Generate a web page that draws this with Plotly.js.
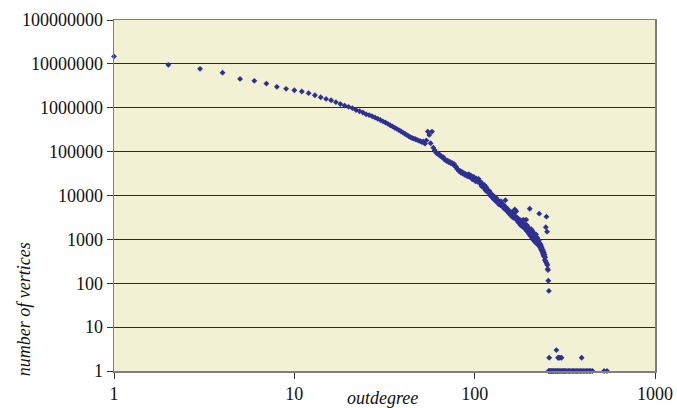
<!DOCTYPE html>
<html>
<head>
<meta charset="utf-8">
<script src="https://cdn.plot.ly/plotly-3.0.1.min.js"></script>
<style>
html,body{margin:0;padding:0;background:#fff;}
#chart{width:677px;height:408px;}
</style>
</head>
<body>
<div id="chart"></div>
<script>
// Out-degree values (x) and number of vertices with that out-degree (y)
const outdegree = [
  1,2,3,4,5,6,7,8,9,10,11,12,13,14,15,16,17,18,19,20,21,22,23,24,25,
  26,27,28,29,30,31,32,33,34,35,36,37,38,39,40,41,42,43,44,45,46,47,48,49,50,
  51,52,53,54,55,56,57,58,59,60,61,62,63,64,65,66,67,68,69,70,
  71,72,73,74,75,76,77,78,79,80,81,82,83,84,85,86,87,88,89,90,
  91,92,93,94,95,96,97,98,99,100,101,102,103,104,105,106,107,108,109,110,
  111,112,113,114,115,116,117,118,119,120,121,122,123,124,125,126,127,128,129,130,
  131,132,133,134,135,136,137,138,139,140,141,142,143,144,145,146,147,148,149,150,
  151,152,153,154,155,156,157,158,159,160,161,162,163,164,165,166,167,168,169,170,
  171,172,173,174,175,176,177,178,179,180,181,182,183,184,185,186,187,188,189,190,
  191,192,193,194,195,196,197,198,199,200,201,202,203,204,205,206,207,208,209,210,
  211,212,213,214,215,216,217,218,219,220,221,222,223,224,225,226,227,228,229,230,
  231,232,233,234,235,236,237,238,239,240,241,242,243,244,245,246,247,248,249,250,
  251,252,253,254,255,256,258
];
const vertices = [
  14800000,9500000,7700000,6300000,4550000,4100000,3560000,3000000,2700000,2500000,
  2350000,2150000,1930000,1740000,1590000,1480000,1340000,1220000,1120000,1050000,
  980000,890000,830000,780000,710000,
  680000,640000,600000,560000,525000,490000,460000,430000,400000,375000,
  350000,330000,310000,292000,272000,255000,240000,226000,214000,205000,
  198000,192000,185000,178000,172000,
  166000,170000,152000,180000,286000,240000,155000,286000,123000,108000,
  96000,90000,91000,81000,80000,74000,75000,66000,65000,61000,
  62000,57000,58500,54000,55000,51000,52000,46000,45000,40000,
  39000,35500,36500,33000,34500,31500,32500,29500,31000,28500,
  29500,27000,30500,27500,26000,28000,23500,25500,26500,23500,
  21000,24500,22500,20500,24000,21000,19000,20500,16500,18500,
  17000,15000,17500,15000,13000,15500,13500,12000,13000,11500,
  12500,10000,11000,10500,9000,10200,9400,8100,9300,8500,
  7400,8800,7700,7100,7600,6300,7200,6700,6000,7400,
  6500,5700,6300,5500,6100,5000,5600,7800,5300,4600,
  5100,4300,4800,4500,3900,4400,4000,3600,4200,3700,
  3300,3900,3400,3100,4500,3500,4800,3000,4300,4400,
  3200,2700,3000,2500,2900,2700,2300,2800,2400,2100,
  2600,2300,2000,2500,2200,2800,1900,2300,1800,2100,
  1700,2000,2800,1600,2100,1500,1900,1700,1400,1800,
  1300,5000,1600,1200,1450,1700,1100,1350,1550,1050,
  1250,950,1400,1100,900,1200,1000,850,1300,950,
  800,1100,900,1000,750,850,950,3850,700,820,
  650,760,600,700,560,640,520,580,470,540,
  430,500,400,450,340,390,320,1900,300,3300,
  280,1500,260,210,200,114,67
];
// Sparse tail: out-degrees with only a few vertices
const tailDegree = [259,284,290,293,297,303,392,
  257,260,263,266,269,272,275,279,282,286,289,293,297,301,306,310,315,320,325,331,336,342,348,354,360,366,372,379,386,393,400,408,416,424,432,440,450,522,542];
const tailVertices = [2,3,2,2,2,2,2,
  1,1,1,1,1,1,1,1,1,1,1,1,1,1,1,1,1,1,1,1,1,1,1,1,1,1,1,1,1,1,1,1,1,1,1,1,1,1,1];

const yTickVals = [1,10,100,1000,10000,100000,1000000,10000000,100000000];
const yTickText = ["1","10","100","1000","10000","100000","1000000","10000000","100000000"];
const xTickVals = [1,10,100,1000];
const xTickText = ["1","10","100","1000"];

const markerColor = '#2E3192';
const traces = [
  {x: outdegree, y: vertices, type:'scatter', mode:'markers', cliponaxis:false,
   marker:{symbol:'diamond', size:4.5, color:markerColor}},
  {x: tailDegree, y: tailVertices, type:'scatter', mode:'markers', cliponaxis:false,
   marker:{symbol:'diamond', size:4.5, color:markerColor}}
];
const font = {family:'"Liberation Serif", "Times New Roman", serif', size:18, color:'#111'};
const layout = {
  width:677, height:408,
  margin:{l:114, r:22, t:20, b:37},
  paper_bgcolor:'#ffffff',
  plot_bgcolor:'#F3F1D4',
  showlegend:false,
  font: font,
  xaxis:{type:'log', range:[0,3], tickvals:xTickVals, ticktext:xTickText,
    showgrid:false, zeroline:false, showline:true, linecolor:'#7f7f7f', linewidth:1.5,
    mirror:true, ticks:'outside', ticklen:6, tickcolor:'#333', tickfont:font},
  yaxis:{type:'log', range:[0,8], tickvals:yTickVals, ticktext:yTickText,
    showgrid:true, gridcolor:'#2a2a2a', gridwidth:1, zeroline:false,
    showline:true, linecolor:'#7f7f7f', linewidth:1.5, mirror:true,
    ticks:'outside', ticklen:6, tickcolor:'#333', tickfont:font},
  annotations:[
    {text:'<i>outdegree</i>', xref:'paper', yref:'paper', x:0.496, y:-0.078,
     xanchor:'center', yanchor:'middle', showarrow:false, font:font},
    {text:'<i>number of vertices</i>', xref:'paper', yref:'paper', x:-0.167, y:0.175,
     xanchor:'center', yanchor:'middle', textangle:-90, showarrow:false, font:font}
  ]
};
Plotly.newPlot('chart', traces, layout, {displayModeBar:false, staticPlot:true});
</script>
</body>
</html>
